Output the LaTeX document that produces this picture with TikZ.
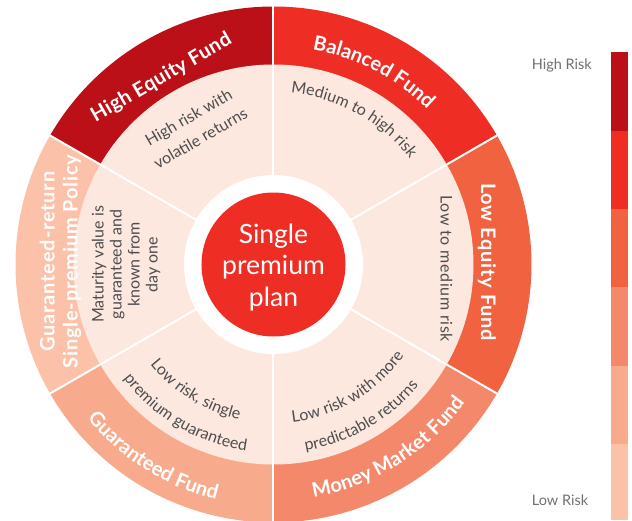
\documentclass[tikz,border=0pt]{standalone}
\usepackage{fontspec}
\setmainfont{Lato}
\usetikzlibrary{decorations.text}
\definecolor{cHE}{HTML}{BC1019}
\definecolor{cBF}{HTML}{EE2E24}
\definecolor{cLE}{HTML}{F06240}
\definecolor{cMM}{HTML}{F4886A}
\definecolor{cGF}{HTML}{F8AB8C}
\definecolor{cGR}{HTML}{FBC1A9}
\definecolor{cpink}{HTML}{FDE8DF}
\definecolor{cdesc}{HTML}{4D4D4F}
\definecolor{clegend}{HTML}{707070}
\newcommand\ttlfont{\fontsize{20}{20}\selectfont\bfseries\color{white}}
\newcommand\dscfont{\fontsize{16}{16}\selectfont\color{cdesc}}
% clockwise arc text (tops outward, upper side)
\newcommand\cwtext[4]{\path[decorate,decoration={text along path,text align=center,text={|#3|#4}}] ({#1+50}:#2) arc[start angle={#1+50}, end angle={#1-50}, radius=#2];}
% counter-clockwise arc text (bottom side, tops toward centre)
\newcommand\ccwtext[4]{\path[decorate,decoration={text along path,text align=center,text={|#3|#4}}] ({#1-50}:#2) arc[start angle={#1-50}, end angle={#1+50}, radius=#2];}
\tikzset{
  divider/.style={draw=white, line width=2pt},
  descnode/.style={align=center, font=\fontsize{16}{18}\selectfont, text=cdesc, inner sep=0pt},
  titlenode/.style={align=center, font=\fontsize{20}{23}\selectfont\bfseries\addfontfeatures{LetterSpace=4}, text=white, inner sep=0pt},
  legendtext/.style={font=\fontsize{14.5}{14.5}\selectfont, text=clegend, anchor=west, inner sep=0pt},
}
\begin{document}
\begin{tikzpicture}[x=1pt,y=1pt]
\clip (-273.5,-255.5) rectangle (358.5,264.5);
\fill[white] (-273.5,-255.5) rectangle (358.5,264.5);
% outer segments
\fill[cHE] (0,0) -- (90:258) arc[start angle=90,end angle=150,radius=258] -- cycle;
\fill[cBF] (0,0) -- (30:258) arc[start angle=30,end angle=90,radius=258] -- cycle;
\fill[cLE] (0,0) -- (-30:258) arc[start angle=-30,end angle=30,radius=258] -- cycle;
\fill[cMM] (0,0) -- (-90:258) arc[start angle=-90,end angle=-30,radius=258] -- cycle;
\fill[cGF] (0,0) -- (-150:258) arc[start angle=-150,end angle=-90,radius=258] -- cycle;
\fill[cGR] (0,0) -- (150:258) arc[start angle=150,end angle=210,radius=258] -- cycle;
% inner pink disc
\fill[cpink] (0,0) circle[radius=200];
% dividers
\foreach \a in {90,30,-30,-90,-150,150} \draw[divider] (0,0) -- (\a:258);
% centre
\fill[white] (0,0) circle[radius=89.5];
\fill[cBF] (0,0) circle[radius=72];
\node[align=center, text=white, font=\fontsize{26.5}{31.7}\selectfont, inner sep=0pt] (centre) at (0,-3) {Single\\premium\\plan};
% fund titles
\node[titlenode, rotate=30, font=\fontsize{20}{23}\selectfont\bfseries\addfontfeatures{LetterSpace=2}] (hetitle) at (121:217.5) {High Equity Fund};
\cwtext{62.5}{218.5}{\ttlfont}{Balanced Fund}
\node[titlenode, rotate=-90] (letitle) at (213.5,2.5) {Low Equity Fund};
\ccwtext{-58}{236}{\ttlfont}{Money Market Fund}
\ccwtext{-122}{242}{\ttlfont}{Guaranteed Fund}
\node[titlenode, rotate=90] (grtitle) at (-213,3) {Guaranteed-return\\Single-premium Policy};
% descriptions
\node[descnode, rotate=30] (highdesc) at (120:158) {High risk with\\[6pt]volatile returns};
\cwtext{61}{172.5}{\dscfont}{Medium to high risk}
\node[descnode, rotate=-90, font=\fontsize{16}{18}\selectfont\addfontfeatures{LetterSpace=4}] (lowmeddesc) at (173,-4) {Low to medium risk};
\ccwtext{-59}{159}{\dscfont}{Low risk with more}
\ccwtext{-60}{189}{\dscfont}{predictable returns}
\ccwtext{-121.8}{158.5}{\dscfont}{Low risk, single}
\ccwtext{-120.5}{188.5}{\dscfont}{premium guaranteed}
\node[descnode, rotate=90] (matdesc) at (180:147.5) {Maturity value is\\guaranteed and\\known from\\day one};
% legend bar
\fill[cHE] (337.5,212.5) rectangle (354.5,133.5);
\fill[cBF] (337.5,133.5) rectangle (354.5,55.5);
\fill[cLE] (337.5,55.5) rectangle (354.5,-22.5);
\fill[cMM] (337.5,-22.5) rectangle (354.5,-101.5);
\fill[cGF] (337.5,-101.5) rectangle (354.5,-179.5);
\fill[cGR] (337.5,-179.5) rectangle (354.5,-255.5);
\node[legendtext] (high) at (258.2,199.5) {High Risk};
\node[legendtext] (low) at (258.2,-235.5) {Low Risk};
\end{tikzpicture}
\end{document}
